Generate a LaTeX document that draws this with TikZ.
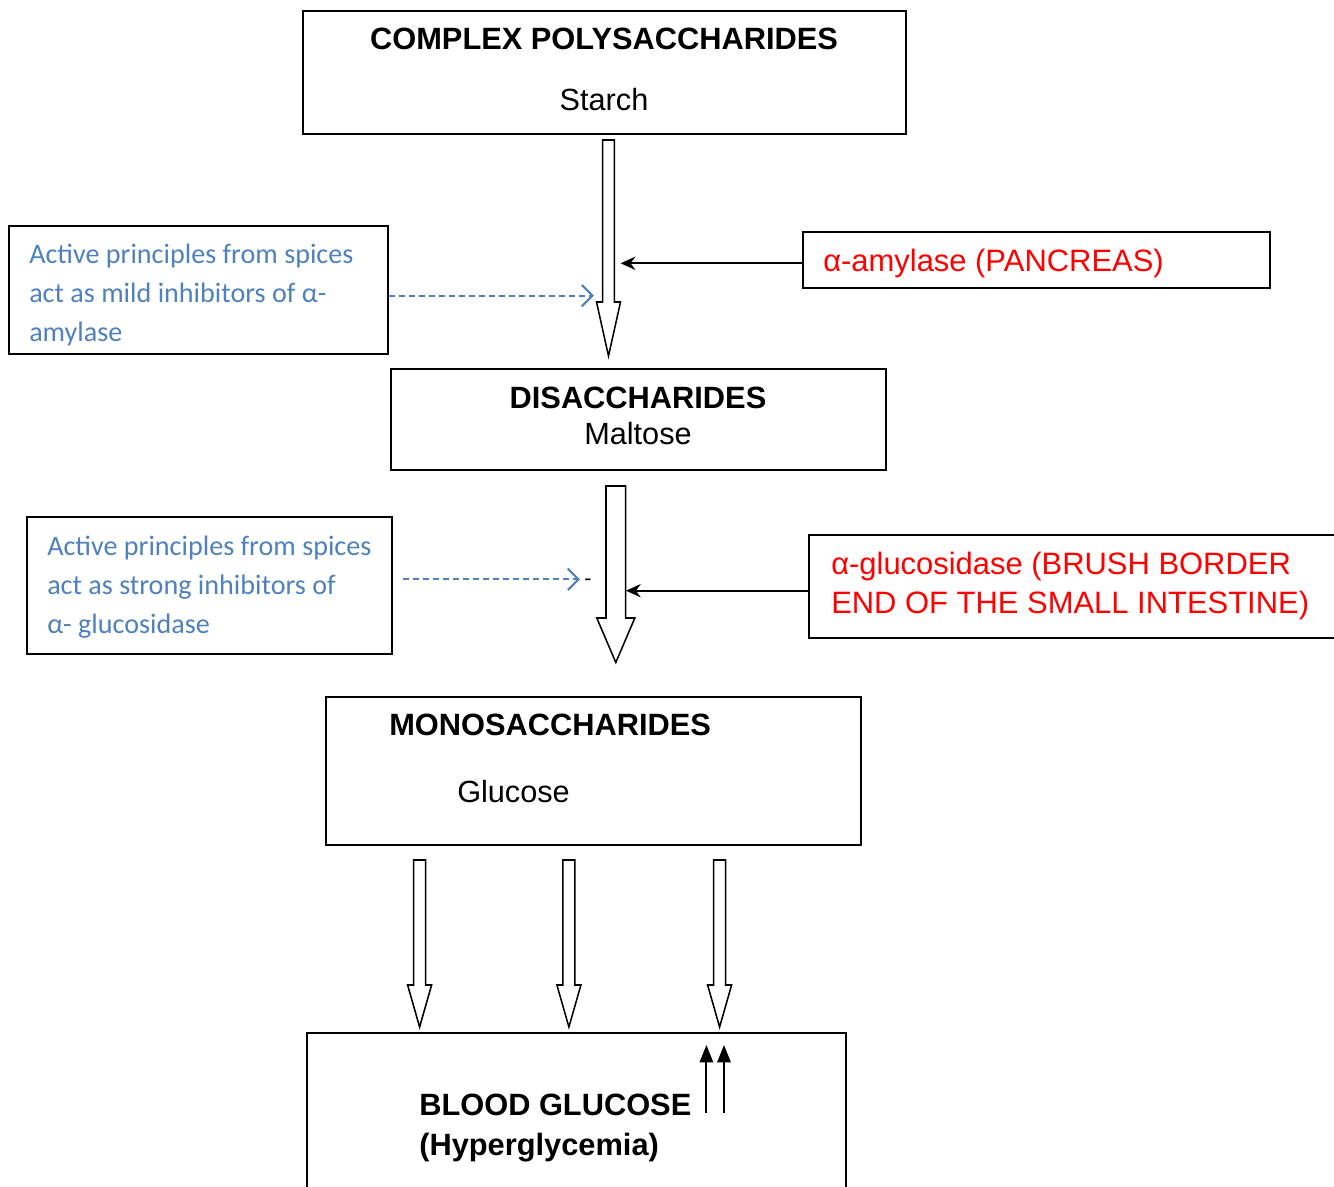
\documentclass[tikz,border=0pt]{standalone}
\usepackage{fontspec}
\setmainfont{Liberation Sans}
\newfontfamily\calib{Carlito}
\usetikzlibrary{fit,arrows.meta}
\definecolor{inhblue}{HTML}{4F81BD}
\definecolor{enzred}{HTML}{FF0000}
\begin{document}
\begin{tikzpicture}[x=0.75pt,y=-0.75pt,
  box/.style={draw, line width=1.15pt, inner sep=0pt},
  lbl/.style={inner sep=0pt, font=\fontsize{23}{27}\selectfont},
  blbl/.style={lbl, font=\fontsize{23.1}{27}\selectfont\bfseries},
  rlbl/.style={lbl, text=enzred, font=\fontsize{23.2}{27}\selectfont},
  inh/.style={inner sep=0pt, anchor=base west, text=inhblue, font=\calib\fontsize{21.1}{29.25}\selectfont},
  hollow/.style={draw, line width=1.15pt, fill=white},
  enzarrow/.style={line width=1.6pt, -{Stealth[length=11pt,width=10pt]}},
  inharrow/.style={draw=inhblue, line width=1.4pt, dash pattern=on 5pt off 2.5pt, -{Straight Barb[length=8pt,width=16pt,line width=1.6pt]}},
  uparrow/.style={line width=1.6pt, -{Triangle[length=13pt,width=10pt]}}
]
\useasboundingbox (0,0) rectangle (1334,1187);
\clip (0,0) rectangle (1334,1187);
\fill[white] (0,0) rectangle (1334,1187);

% boxes
\node[box, fit={(303,11) (906,134)}] (poly) {};
\node[box, fit={(391,369) (886,470)}] (di) {};
\node[box, fit={(326,697) (861,845)}] (mono) {};
\node[box, fit={(307,1033) (846,1250)}] (blood) {};
\node[box, fit={(9,226) (388,354)}] (inh1) {};
\node[box, fit={(27,517) (392,654)}] (inh2) {};
\node[box, fit={(803,232) (1270,288)}] (amy) {};
\node[box, fit={(809,535) (1345,638)}] (glu) {};

% texts
\node[blbl, anchor=base] (polyt) at (604,50) {COMPLEX POLYSACCHARIDES};
\node[lbl, anchor=base] (starch) at (604,111) {Starch};
\node[blbl, anchor=base] (dit) at (638,408) {DISACCHARIDES};
\node[lbl, anchor=base] (malt) at (638,444) {Maltose};
\node[blbl, anchor=base west] (monot) at (389,735) {MONOSACCHARIDES};
\node[lbl, anchor=base west] (gluc) at (457,802) {Glucose};
\node[blbl, anchor=base west] (bg) at (419,1115) {BLOOD GLUCOSE};
\node[blbl, anchor=base west] (hyp) at (419,1155) {(Hyperglycemia)};
\node[rlbl, anchor=base west] (amyt) at (823,272) {α-amylase (PANCREAS)};
\node[rlbl, anchor=base west] (glut1) at (831,574) {α-glucosidase (BRUSH BORDER};
\node[rlbl, anchor=base west] (glut2) at (831,613) {END OF THE SMALL INTESTINE)};
\node[inh] (i1a) at (29,264) {Active principles from spices};
\node[inh] (i1b) at (29,303) {act as mild inhibitors of α-};
\node[inh] (i1c) at (29,342) {amylase};
\node[inh] (i2a) at (47,555) {Active principles from spices};
\node[inh] (i2b) at (47,594) {act as strong inhibitors of};
\node[inh] (i2c) at (47,633) {α- glucosidase};
\node[lbl, anchor=base, font=\fontsize{16}{18}\selectfont] (dash) at (588,585) {-};

% hollow arrows
\draw[hollow] (602.7,140) -- (614.3,140) -- (614.3,302) -- (620.5,302) -- (608.5,356) -- (596.5,302) -- (602.7,302) -- cycle;
\draw[hollow] (606,486) -- (625.6,486) -- (625.6,618) -- (634.8,618) -- (615.8,662.5) -- (596.8,618) -- (606,618) -- cycle;
\foreach \cx in {419.6,568.9,719.6}{
  \draw[hollow] (\cx-6,860) -- (\cx+6,860) -- (\cx+6,985) -- (\cx+12,985) -- (\cx,1027) -- (\cx-12,985) -- (\cx-6,985) -- cycle;
}

% enzyme arrows
\coordinate (a1) at (620.7,263.3);
\coordinate (a2) at (626,590.7);
\draw[enzarrow] (amy.west |- a1) -- (a1);
\draw[enzarrow] (glu.west |- a2) -- (a2);

% inhibitor arrows
\coordinate (d1) at (594,295.7);
\coordinate (d2) at (580,579.3);
\draw[inharrow] (inh1.east |- d1) -- (d1);
\draw[inharrow] ([xshift=7.5pt]inh2.east |- d2) -- (d2);

% up arrows
\coordinate (u1) at (706.4,1045);
\coordinate (u2) at (724,1045);
\draw[uparrow] (706.4,1113) -- (u1);
\draw[uparrow] (724,1113) -- (u2);
\end{tikzpicture}
\end{document}
